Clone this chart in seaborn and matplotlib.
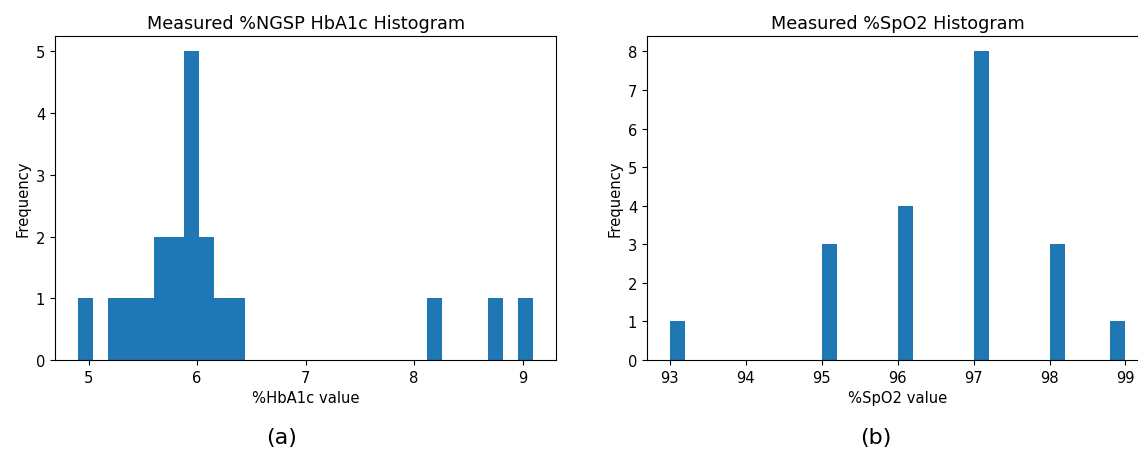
import numpy as np
import pandas as pd
import matplotlib
matplotlib.use("Agg")
import matplotlib.pyplot as plt
import seaborn as sns

hba1c = [4.9, 5.2, 5.35, 5.5, 5.65, 5.7, 5.8, 5.85, 5.9, 5.9,
         5.9, 6.0, 6.0, 6.05, 6.1, 6.2, 6.4, 8.2, 8.7, 9.1]
spo2 = [93, 95, 95, 95, 96, 96, 96, 96, 97, 97,
        97, 97, 97, 97, 97, 97, 98, 98, 98, 99]

n_bins = 30
bar_color = "#1f77b4"

fig = plt.figure(figsize=(11.38, 4.52), dpi=100)
ax1 = fig.add_axes([0.0483, 0.2013, 0.4405, 0.717])
ax2 = fig.add_axes([0.5685, 0.2013, 0.4405, 0.717])

sns.histplot(x=hba1c, bins=n_bins, ax=ax1, color=bar_color, alpha=1, linewidth=0)
ax1.set_title("Measured %NGSP HbA1c Histogram", fontsize=12.7)
ax1.set_xlabel("%HbA1c value", fontsize=10.6)
ax1.set_ylabel("Frequency", fontsize=10.6)

sns.histplot(x=spo2, bins=n_bins, ax=ax2, color=bar_color, alpha=1, linewidth=0)
ax2.set_title("Measured %SpO2 Histogram", fontsize=12.7)
ax2.set_xlabel("%SpO2 value", fontsize=10.6)
ax2.set_ylabel("Frequency", fontsize=10.6)

for ax in (ax1, ax2):
    ax.tick_params(labelsize=10.6)
    ax.margins(x=0.05)

fig.text(0.247, 0.031, "(a)", ha="center", va="center", fontsize=16)
fig.text(0.770, 0.031, "(b)", ha="center", va="center", fontsize=16)

fig.savefig("out.png", dpi=100)
